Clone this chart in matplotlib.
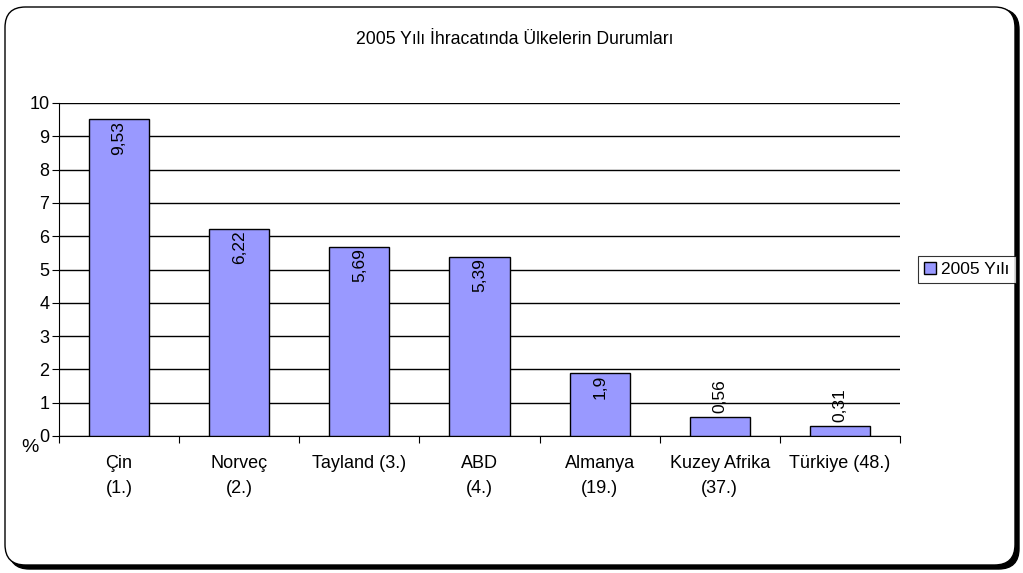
import matplotlib.pyplot as plt
from matplotlib.patches import FancyBboxPatch

countries = ["Çin\n(1.)", "Norveç\n(2.)", "Tayland (3.)", "ABD\n(4.)",
             "Almanya\n(19.)", "Kuzey Afrika\n(37.)", "Türkiye (48.)"]
values = [9.53, 6.22, 5.69, 5.39, 1.9, 0.56, 0.31]
value_labels = ["9,53", "6,22", "5,69", "5,39", "1,9", "0,56", "0,31"]
series_name = "2005 Yılı"

plt.rcParams['font.family'] = ['Liberation Sans', 'DejaVu Sans']
plt.rcParams['font.size'] = 13

fig = plt.figure(figsize=(10.23, 5.73), dpi=100)

# rounded frame with shadow
W, H = 1023, 573
shadow = FancyBboxPatch((9 / W, 4 / H), 1010 / W, 560 / H,
                        boxstyle="round,pad=0,rounding_size=0.02",
                        transform=fig.transFigure, facecolor="black",
                        edgecolor="black", lw=1, mutation_aspect=W / H,
                        zorder=-3)
frame = FancyBboxPatch((5 / W, 8 / H), 1010 / W, 558 / H,
                       boxstyle="round,pad=0,rounding_size=0.02",
                       transform=fig.transFigure, facecolor="white",
                       edgecolor="black", lw=1, mutation_aspect=W / H,
                       zorder=-2)
fig.patches.extend([shadow, frame])

ax = fig.add_axes([59 / W, 1 - 436 / H, 841 / W, 333 / H])
ax.set_facecolor("none")

x = range(len(values))
bars = ax.bar(x, values, width=0.5, color="#9999FF", edgecolor="black",
              lw=1, label=series_name, zorder=3)

for xi, v, lab in zip(x, values, value_labels):
    if v > 1.5:
        ax.text(xi, v - 0.06, lab, rotation=90, ha="center", va="top",
                fontsize=12.5, zorder=4)
    else:
        ax.text(xi, v + 0.12, lab, rotation=90, ha="center", va="bottom",
                fontsize=12.5, zorder=4)

ax.set_xlim(-0.5, len(values) - 0.5)
ax.set_ylim(0, 10)
ax.set_yticks(range(0, 11))
ax.yaxis.grid(True, color="black", lw=1, zorder=0)
ax.set_xticks([i - 0.5 for i in range(len(values) + 1)], minor=False)
ax.set_xticklabels([])
ax.set_xticks(list(x), minor=True)
ax.set_xticklabels(countries, minor=True, fontsize=13)
ax.tick_params(axis="x", which="minor", length=0, pad=14)
ax.tick_params(axis="x", which="major", length=5, direction="out", color="black")
ax.tick_params(axis="y", length=5, direction="out", labelsize=13, pad=2)
for lab in ax.get_xticklabels(minor=True):
    lab.set_linespacing(1.6)
for s in ["top", "right"]:
    ax.spines[s].set_visible(False)
ax.spines["left"].set_color("black")
ax.spines["bottom"].set_color("black")

fig.text(30 / W, 1 - 448 / H, "%", fontsize=14, ha="center", va="center")
fig.text(515 / W, 1 - 40 / H, "2005 Yılı İhracatında Ülkelerin Durumları",
         fontsize=12.7, ha="center", va="center")

leg = ax.legend(loc="center left", bbox_to_anchor=((918 - 59) / 841, 0.5),
                frameon=True, fancybox=False, edgecolor="black",
                handlelength=0.7, handleheight=0.7, handletextpad=0.3,
                borderpad=0.35, borderaxespad=0, fontsize=12.5)
leg.get_frame().set_linewidth(0.8)

fig.savefig("out.png", dpi=100)
